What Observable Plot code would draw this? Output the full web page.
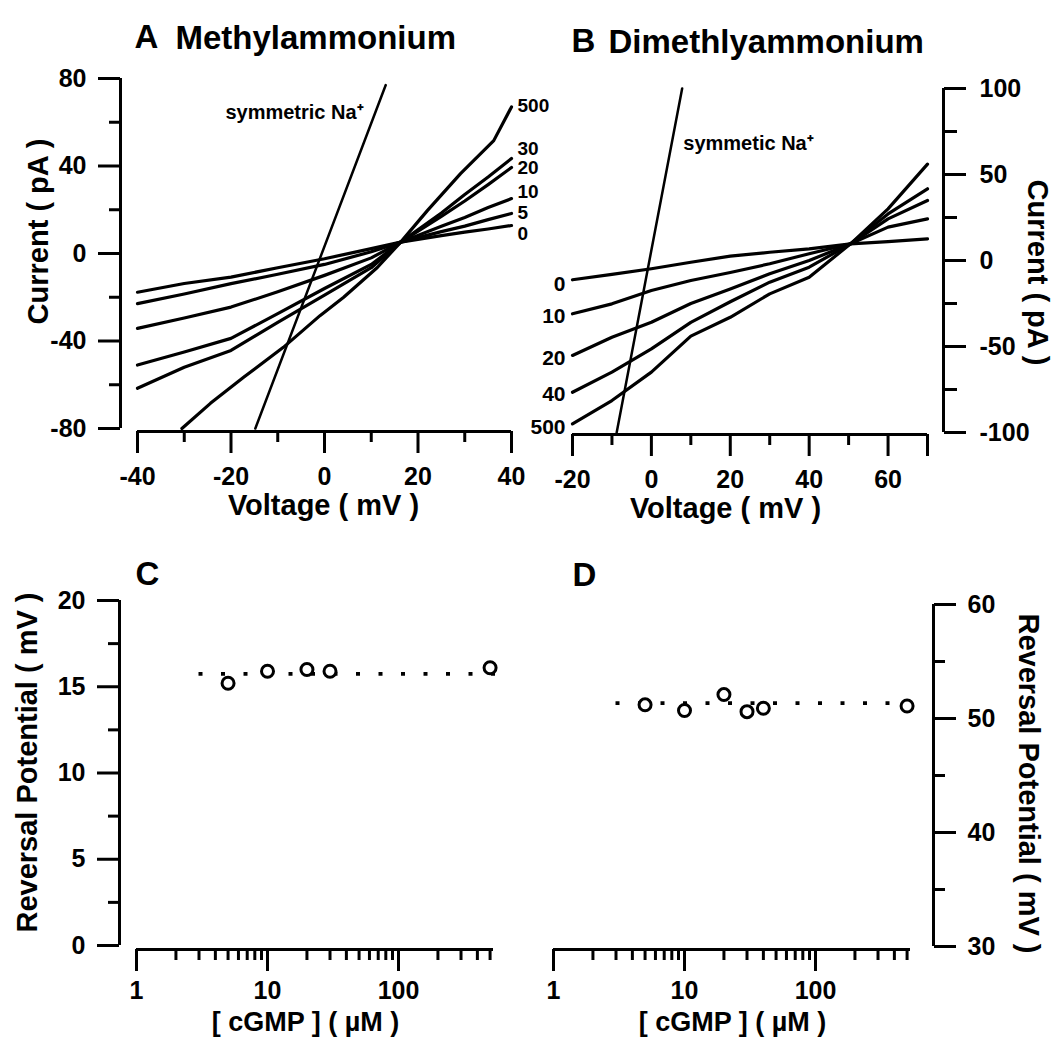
<!DOCTYPE html>
<html><head><meta charset="utf-8">
<script src="https://cdn.jsdelivr.net/npm/d3@7"></script>
<script src="https://cdn.jsdelivr.net/npm/@observablehq/plot@0.6"></script>
<style>
body{margin:0;background:#fff;}
#chart{position:relative;width:1055px;height:1037px;overflow:hidden;background:#fff;}
#chart svg{position:absolute;left:0;top:0;}
</style></head><body><div id="chart"></div>
<script>
// ---------- Panel A: Methylammonium I-V curves ----------
const concA = ["0", "5", "10", "20", "30", "500"];
const vA = [-40, -30, -20, -10, 0, 10, 16.3, 25, 30, 35, 40];
const iA_0  = [-17.7, -13.7, -10.8, -6.5, -2.4, 2.2, 5.2, 8.2, 9.8, 11.2, 12.8];
const iA_5  = [-22.9, -18.5, -13.8, -9.5, -5.0, 0.8, 5.2, 10.0, 12.5, 15.5, 18.3];
const iA_10 = [-34.2, -29.5, -24.5, -17.5, -10.0, -2.0, 5.2, 12.5, 16.5, 21.0, 25.1];
const iA_20 = [-51.0, -45.0, -38.8, -27.5, -16.0, -5.0, 5.2, 17.0, 24.0, 31.5, 39.3];
const iA_30 = [-61.6, -52.0, -44.3, -31.5, -19.0, -6.5, 5.2, 18.5, 27.0, 35.0, 43.4];
const vA_500 = [-30.5, -24.4, -17.3, -8.8, -0.9, 4.1, 11.3, 16.3, 22, 29.1, 36.2, 40];
const iA_500 = [-80, -68.5, -56.6, -42.9, -28.3, -20, -6.4, 5.2, 19.6, 36.5, 51.6, 67];
const vNaA = [-14.8, 13.1];
const iNaA = [-80, 77];
const labelYA = [9.1, 18.5, 28, 39, 48, 67.6];   // label anchors (pA) at +40 mV
const xDomA = [-40, 40], yDomA = [-80, 80];
const xTicksA = [-40, -20, 0, 20, 40], xMinorA = [-30, -10, 10, 30];
const yTicksA = [-80, -40, 0, 40, 80], yMinorA = [-60, -20, 20, 60];

// ---------- Panel B: Dimethlyammonium I-V curves ----------
const concB = ["0", "10", "20", "40", "500"];
const vB = [-20, -10, 0, 10, 20, 30, 40, 50.5, 60, 70];
const iB_0   = [-11.2, -8.1, -4.8, -1.0, 2.5, 4.8, 6.8, 9.7, 11.0, 12.6];
const iB_10  = [-31.0, -25.2, -17.4, -11.6, -7.0, -1.9, 3.9, 9.7, 19.4, 24.2];
const iB_20  = [-55.2, -44.6, -35.9, -25.0, -16.5, -7.7, 0.0, 9.7, 24.2, 34.9];
const iB_40  = [-76.6, -64.9, -51.4, -36.0, -24.0, -12.6, -3.9, 9.7, 27.1, 41.7];
const iB_500 = [-95.0, -81.4, -64.9, -44.0, -33.0, -19.4, -9.7, 9.7, 30.0, 56.0];
const vNaB = [-8.8, 7.8];
const iNaB = [-100, 100];
const labelYB = [-14, -32.6, -57, -78, -97];         // label anchors (pA) at -20 mV
const xDomB = [-20, 70], yDomB = [-100, 100];
const xTicksB = [-20, 0, 20, 40, 60], xEndB = [70], xMinorB = [-10, 10, 30, 50];
const yTicksB = [-100, -50, 0, 50, 100], yMinorB = [-75, -25, 25, 75];

// ---------- Panels C, D: reversal potential vs [cGMP] ----------
const cgmpC = [5, 10, 20, 30, 500];
const erevC = [15.2, 15.9, 16.0, 15.9, 16.1];
const fitC = 15.75;
const cgmpD = [5, 10, 20, 30, 40, 500];
const erevD = [51.2, 50.7, 52.1, 50.6, 50.9, 51.1];
const fitD = 51.35;
const fitSpan = [3, 720];
const xDomLog = [1, 531];
const logMajor = [1, 10, 100];
const logMinor = [2, 3, 4, 5, 6, 7, 8, 9, 20, 30, 40, 50, 60, 70, 80, 90, 200, 300, 400, 500];
const yDomC = [0, 20], yTicksC = [0, 5, 10, 15, 20], yMinorC = [2.5, 7.5, 12.5, 17.5];
const yDomD = [30, 60], yTicksD = [30, 40, 50, 60], yMinorD = [35, 45, 55];

// ---------- build tables ----------
const iAll_A = [iA_0, iA_5, iA_10, iA_20, iA_30];
const tableA = [];
concA.slice(0, 5).forEach((c, k) => vA.forEach((v, j) => tableA.push({c, v, i: iAll_A[k][j]})));
vA_500.forEach((v, j) => tableA.push({c: "500", v, i: iA_500[j]}));
const naA = vNaA.map((v, j) => ({v, i: iNaA[j]}));
const labA = concA.map((c, k) => ({c, y: labelYA[k]}));

const iAll_B = [iB_0, iB_10, iB_20, iB_40, iB_500];
const tableB = [];
concB.forEach((c, k) => vB.forEach((v, j) => tableB.push({c, v, i: iAll_B[k][j]})));
const naB = vNaB.map((v, j) => ({v, i: iNaB[j]}));
const labB = concB.map((c, k) => ({c, y: labelYB[k]}));

const tableC = cgmpC.map((c, k) => ({c, e: erevC[k]}));
const tableD = cgmpD.map((c, k) => ({c, e: erevD[k]}));

// ---------- helpers ----------
const W = 1055, H = 1037;
const FONT = "'Liberation Sans', Arial, Helvetica, sans-serif";
const AX = 3;          // axis stroke
const TICK = 25, LAB = 29, TITLE = 33;
const fmt = d => String(d);
const blank = () => "";

function panel(m, scales, marks) {
  const svg = Plot.plot({
    width: W, height: H,
    marginLeft: m.left, marginRight: W - m.right, marginTop: m.top, marginBottom: H - m.bottom,
    ...scales,
    style: {fontFamily: FONT, fontWeight: "bold", color: "#000", background: "transparent", overflow: "visible"},
    marks
  });
  document.getElementById("chart").appendChild(svg);
}
const tx = (m, str, X, Y, o = {}) =>
  Plot.text([str], {frameAnchor: "top-left", dx: X - m.left, dy: Y - m.top, text: d => d, fill: "#000",
                    textAnchor: "middle", lineAnchor: "middle", ...o});

// ---------- Panel A ----------
const mA = {left: 120, right: 511, top: 78, bottom: 431};
panel(mA, {x: {domain: xDomA, insetLeft: 17}, y: {domain: yDomA, insetBottom: 3}}, [
  Plot.ruleX([xDomA[0]], {y1: yDomA[0], y2: yDomA[1], dx: -17, strokeWidth: AX}),
  Plot.ruleY([yDomA[0]], {x1: xDomA[0], x2: xDomA[1], dy: 3, strokeWidth: AX}),
  Plot.axisY({ticks: yTicksA, anchor: "left", tickSize: 22, tickPadding: 12, fontSize: TICK, strokeWidth: AX, label: null, tickFormat: fmt}),
  Plot.axisY({ticks: yMinorA, anchor: "left", tickSize: 11, tickFormat: blank, strokeWidth: AX, label: null}),
  Plot.axisX({ticks: xTicksA, anchor: "bottom", tickSize: 22, tickPadding: 14, fontSize: TICK, strokeWidth: AX, label: null, tickFormat: fmt}),
  Plot.axisX({ticks: xMinorA, anchor: "bottom", tickSize: 11, tickFormat: blank, strokeWidth: AX, label: null}),
  Plot.line(naA, {x: "v", y: "i", stroke: "#000", strokeWidth: 2.5}),
  Plot.line(tableA, {x: "v", y: "i", z: "c", stroke: "#000", strokeWidth: 3.2, strokeLinejoin: "round"}),
  Plot.text(labA, {x: () => xDomA[1], y: "y", text: "c", dx: 6, textAnchor: "start", fontSize: 19, fill: "#000"}),
  tx(mA, "symmetric Na⁺", 294, 112, {fontSize: 20}),
  tx(mA, "A", 146, 37, {fontSize: TITLE}),
  tx(mA, "Methylammonium", 175, 38, {fontSize: TITLE, textAnchor: "start"}),
  tx(mA, "Current ( pA )", 38, 231, {fontSize: LAB, rotate: -90}),
  tx(mA, "Voltage ( mV )", 323, 505, {fontSize: LAB})
]);

// ---------- Panel B ----------
const mB = {left: 572, right: 943, top: 88, bottom: 434};
panel(mB, {x: {domain: xDomB, insetRight: 16}, y: {domain: yDomB, insetBottom: 2}}, [
  Plot.ruleX([xDomB[1]], {y1: yDomB[0], y2: yDomB[1], dx: 16, strokeWidth: AX}),
  Plot.ruleY([yDomB[0]], {x1: xDomB[0], x2: xDomB[1], dy: 2, strokeWidth: AX}),
  Plot.axisY({ticks: yTicksB, anchor: "right", tickSize: 22, tickPadding: 14, fontSize: TICK, strokeWidth: AX, label: null, tickFormat: fmt}),
  Plot.axisY({ticks: yMinorB, anchor: "right", tickSize: 13, tickFormat: blank, strokeWidth: AX, label: null}),
  Plot.axisX({ticks: xTicksB, anchor: "bottom", tickSize: 22, tickPadding: 14, fontSize: TICK, strokeWidth: AX, label: null, tickFormat: fmt}),
  Plot.axisX({ticks: xEndB, anchor: "bottom", tickSize: 22, tickFormat: blank, strokeWidth: AX, label: null}),
  Plot.axisX({ticks: xMinorB, anchor: "bottom", tickSize: 11, tickFormat: blank, strokeWidth: AX, label: null}),
  Plot.line(naB, {x: "v", y: "i", stroke: "#000", strokeWidth: 2.5}),
  Plot.line(tableB, {x: "v", y: "i", z: "c", stroke: "#000", strokeWidth: 3.2, strokeLinejoin: "round"}),
  Plot.text(labB, {x: () => xDomB[0], y: "y", text: "c", dx: -7, textAnchor: "end", fontSize: 21, fill: "#000"}),
  tx(mB, "symmetic Na⁺", 748, 143, {fontSize: 20}),
  tx(mB, "B", 583, 41, {fontSize: TITLE}),
  tx(mB, "Dimethlyammonium", 608, 42, {fontSize: TITLE, textAnchor: "start"}),
  tx(mB, "Current ( pA )", 1037, 272, {fontSize: LAB, rotate: 90}),
  tx(mB, "Voltage ( mV )", 725, 508, {fontSize: LAB})
]);

// ---------- Panel C ----------
const mC = {left: 119, right: 493, top: 600, bottom: 949};
panel(mC, {x: {type: "log", domain: xDomLog, insetLeft: 17}, y: {domain: yDomC, insetBottom: 4}}, [
  Plot.ruleX([xDomLog[0]], {y1: yDomC[0], y2: yDomC[1], dx: -17, strokeWidth: AX}),
  Plot.ruleY([yDomC[0]], {x1: xDomLog[0], x2: xDomLog[1], dy: 4, strokeWidth: AX}),
  Plot.axisY({ticks: yTicksC, anchor: "left", tickSize: 22, tickPadding: 12, fontSize: TICK, strokeWidth: AX, label: null, tickFormat: fmt}),
  Plot.axisY({ticks: yMinorC, anchor: "left", tickSize: 11, tickFormat: blank, strokeWidth: AX, label: null}),
  Plot.axisX({ticks: logMajor, anchor: "bottom", tickSize: 22, tickPadding: 10, fontSize: TICK, strokeWidth: AX, label: null, tickFormat: fmt}),
  Plot.axisX({ticks: logMinor, anchor: "bottom", tickSize: 11, tickFormat: blank, strokeWidth: AX, label: null}),
  Plot.ruleY([fitC], {x1: fitSpan[0], x2: fitSpan[1], stroke: "#000", strokeWidth: 3.8, strokeDasharray: "4 18.5"}),
  Plot.dot(tableC, {x: "c", y: "e", r: 6, stroke: "#000", strokeWidth: 3, fill: "#fff"}),
  tx(mC, "C", 147, 574, {fontSize: TITLE}),
  tx(mC, "Reversal Potential ( mV )", 27, 762, {fontSize: LAB, rotate: -90}),
  tx(mC, "[ cGMP ] ( µM )", 305, 1022, {fontSize: 27})
]);

// ---------- Panel D ----------
const mD = {left: 553, right: 933, top: 604, bottom: 949};
panel(mD, {x: {type: "log", domain: xDomLog, insetRight: 23}, y: {domain: yDomD, insetBottom: 3}}, [
  Plot.ruleX([xDomLog[1]], {y1: yDomD[0], y2: yDomD[1], dx: 23, strokeWidth: AX}),
  Plot.ruleY([yDomD[0]], {x1: xDomLog[0], x2: xDomLog[1], dy: 3, strokeWidth: AX}),
  Plot.axisY({ticks: yTicksD, anchor: "right", tickSize: 22, tickPadding: 12, fontSize: TICK, strokeWidth: AX, label: null, tickFormat: fmt}),
  Plot.axisY({ticks: yMinorD, anchor: "right", tickSize: 11, tickFormat: blank, strokeWidth: AX, label: null}),
  Plot.axisX({ticks: logMajor, anchor: "bottom", tickSize: 22, tickPadding: 10, fontSize: TICK, strokeWidth: AX, label: null, tickFormat: fmt}),
  Plot.axisX({ticks: logMinor, anchor: "bottom", tickSize: 11, tickFormat: blank, strokeWidth: AX, label: null}),
  Plot.ruleY([fitD], {x1: fitSpan[0], x2: fitSpan[1], stroke: "#000", strokeWidth: 3.8, strokeDasharray: "4 18.5"}),
  Plot.dot(tableD, {x: "c", y: "e", r: 6, stroke: "#000", strokeWidth: 3, fill: "#fff"}),
  tx(mD, "D", 584, 575, {fontSize: TITLE}),
  tx(mD, "Reversal Potential ( mV )", 1028, 783, {fontSize: LAB, rotate: 90}),
  tx(mD, "[ cGMP ] ( µM )", 732, 1022, {fontSize: 27})
]);
</script></body></html>
